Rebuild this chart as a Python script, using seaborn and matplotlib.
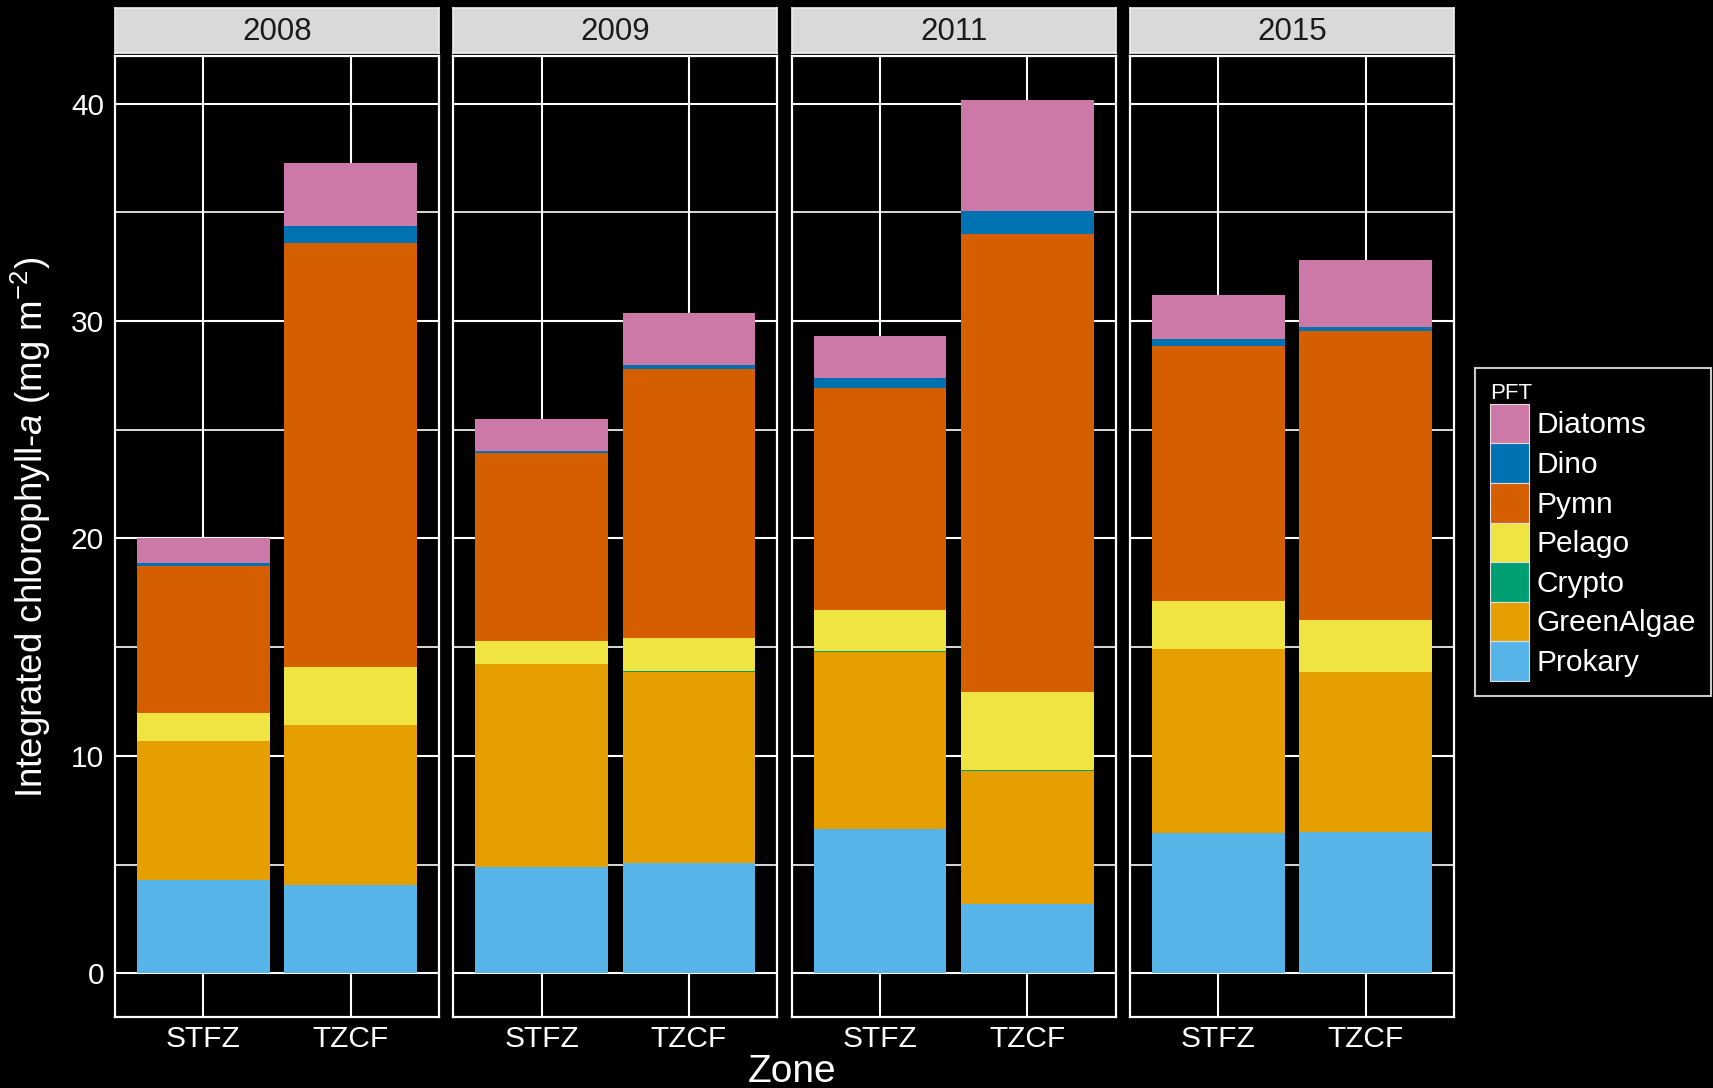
import numpy as np
import pandas as pd
import matplotlib
matplotlib.use("Agg")
import matplotlib.pyplot as plt
from matplotlib.patches import Patch
from matplotlib.ticker import MultipleLocator
import seaborn as sns

# ---- data: integrated chlorophyll-a per phytoplankton functional type ----
years = ["2008", "2009", "2011", "2015"]
zones = ["STFZ", "TZCF"]
# one value per (year, zone), ordered 2008 STFZ, 2008 TZCF, 2009 STFZ, ...
prokary     = [4.31, 4.08, 4.90, 5.06, 6.62, 3.20, 6.47, 6.52]
green_algae = [6.36, 7.34, 9.32, 8.82, 8.18, 6.12, 8.43, 7.33]
crypto      = [0.01, 0.01, 0.01, 0.01, 0.01, 0.04, 0.01, 0.01]
pelago      = [1.30, 2.67, 1.07, 1.51, 1.88, 3.57, 2.23, 2.39]
pymn        = [6.75, 19.49, 8.62, 12.40, 10.24, 21.09, 11.69, 13.27]
dino        = [0.15, 0.76, 0.11, 0.19, 0.45, 1.02, 0.34, 0.20]
diatoms     = [1.12, 2.92, 1.46, 2.38, 1.91, 5.14, 2.04, 3.07]

pft_stack = ["Prokary", "GreenAlgae", "Crypto", "Pelago", "Pymn", "Dino", "Diatoms"]  # bottom -> top
pft_colors = {
    "Diatoms": "#CC79A7",
    "Dino": "#0072B2",
    "Pymn": "#D55E00",
    "Pelago": "#F0E442",
    "Crypto": "#009E73",
    "GreenAlgae": "#E69F00",
    "Prokary": "#56B4E9",
}
series = {
    "Prokary": prokary, "GreenAlgae": green_algae, "Crypto": crypto,
    "Pelago": pelago, "Pymn": pymn, "Dino": dino, "Diatoms": diatoms,
}

rows = []
for pft in pft_stack:
    vals = series[pft]
    k = 0
    for yr in years:
        for zn in zones:
            rows.append({"Year": yr, "Zone": zn, "PFT": pft, "value": vals[k]})
            k += 1
df = pd.DataFrame(rows)
df["PFT"] = pd.Categorical(df["PFT"], categories=pft_stack, ordered=True)
df = df.sort_values(["Year", "Zone", "PFT"])
df["top"] = df.groupby(["Year", "Zone"])["value"].cumsum()

ymax = df["top"].max()
pad = 0.05 * ymax

# ---- style ----
sns.set_style("dark")
plt.rcParams["font.family"] = ["Liberation Sans", "DejaVu Sans"]
plt.rcParams["mathtext.fontset"] = "custom"
plt.rcParams["mathtext.rm"] = "Liberation Sans"
plt.rcParams["mathtext.it"] = "Liberation Sans:italic"

W, H = 1713, 1088
fig = plt.figure(figsize=(W / 100, H / 100), dpi=100, facecolor="black")

panel_left0 = 115
panel_w = 324
panel_step = 338.3
panel_top = 56
panel_bot = 1017
strip_top = 8
strip_bot = 53

TICK_FS = 21.5

axes = []
for i, yr in enumerate(years):
    x0 = panel_left0 + i * panel_step
    ax = fig.add_axes([x0 / W, 1 - panel_bot / H, panel_w / W, (panel_bot - panel_top) / H])
    ax.set_facecolor("black")
    sub = df[df["Year"] == yr]
    # cumulative bars, drawn from the top layer down so each lower layer covers the one above
    for pft in pft_stack[::-1]:
        layer = sub[sub["PFT"] == pft]
        sns.barplot(data=layer, x="Zone", y="top", order=zones,
                    color=pft_colors[pft], saturation=1, width=0.9,
                    errorbar=None, linewidth=0, edgecolor="none", ax=ax)
    ax.set_xlim(-0.6, 1.6)
    ax.set_ylim(-pad, ymax + pad)
    ax.yaxis.set_major_locator(MultipleLocator(10))
    ax.yaxis.set_minor_locator(MultipleLocator(5))
    ax.set_axisbelow(True)
    ax.grid(True, which="major", axis="both", color="white", linewidth=1.5)
    ax.grid(True, which="minor", axis="y", color="white", linewidth=1.2)
    for s in ax.spines.values():
        s.set_color("white")
        s.set_linewidth(1.6)
        s.set_visible(True)
    ax.set_xlabel("")
    ax.set_ylabel("")
    ax.tick_params(axis="x", which="major", colors="white", labelcolor="white",
                   labelsize=TICK_FS, length=4, width=1.4, pad=2, direction="out")
    ax.tick_params(which="minor", length=0)
    if i == 0:
        ax.tick_params(axis="y", which="major", colors="white", labelcolor="white",
                       labelsize=TICK_FS, length=4, width=1.4, pad=4, direction="out")
    else:
        ax.tick_params(axis="y", which="major", length=0, labelleft=False)
    axes.append(ax)

    # facet strip
    sax = fig.add_axes([x0 / W, 1 - strip_bot / H, panel_w / W, (strip_bot - strip_top) / H])
    sax.set_facecolor("#d9d9d9")
    sax.set_xticks([])
    sax.set_yticks([])
    for s in sax.spines.values():
        s.set_color("#efefef")
        s.set_linewidth(1.2)
    sax.text(0.5, 0.47, yr, ha="center", va="center", fontsize=22.5, color="#1a1a1a",
             transform=sax.transAxes)

# axis titles
fig.text(31 / W, 1 - 527 / H, r"Integrated chlorophyll-$\mathit{a}$ (mg m$^{-2}$)",
         rotation=90, ha="center", va="center", fontsize=26.5, color="white")
fig.text(792 / W, 1 - 1072 / H, "Zone", ha="center", va="center", fontsize=28, color="white")

# legend
handles = [Patch(facecolor=pft_colors[p], edgecolor="#dddddd", linewidth=0.8) for p in pft_stack[::-1]]
leg = fig.legend(handles, pft_stack[::-1], title="PFT", loc="upper left",
                 bbox_to_anchor=(1475 / W, 1 - 368 / H), frameon=True, fancybox=False,
                 facecolor="black", edgecolor="white", fontsize=21.5, title_fontsize=16,
                 labelcolor="white", handlelength=1.31, handleheight=1.66,
                 handletextpad=0.25, labelspacing=0.0, borderpad=0.5,
                 alignment="left", borderaxespad=0)
leg.get_title().set_color("white")
leg.get_frame().set_linewidth(1.5)

fig.savefig("out.png", dpi=100, facecolor="black")
